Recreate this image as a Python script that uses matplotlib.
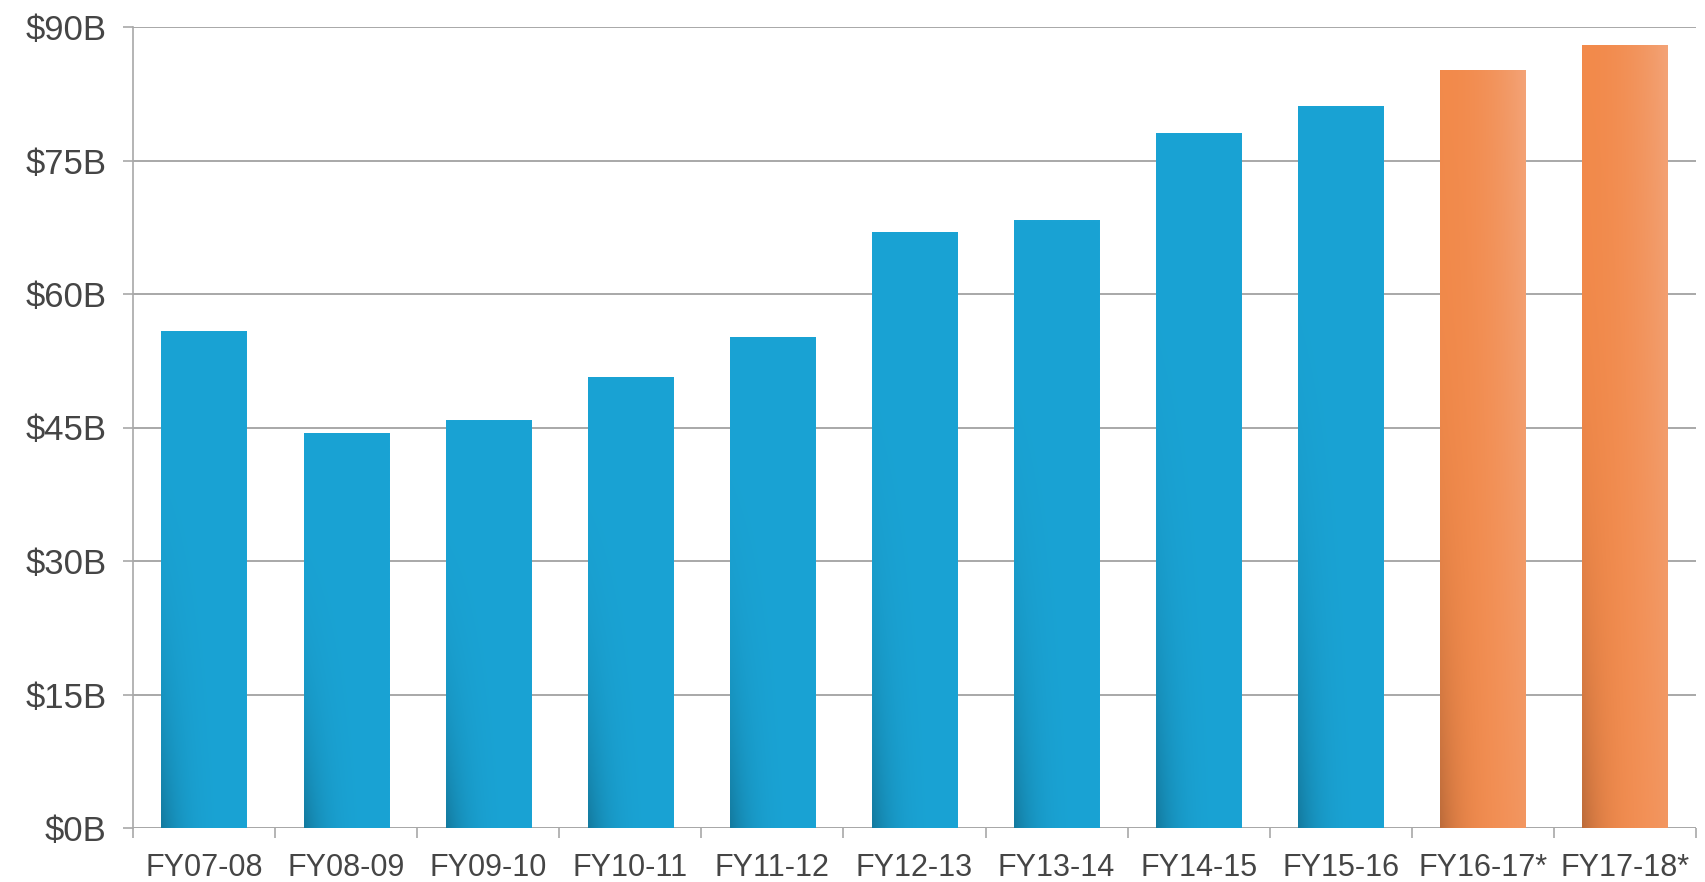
import numpy as np
import matplotlib
matplotlib.use('Agg')
import matplotlib.pyplot as plt
from matplotlib.colors import to_rgb

plt.rcParams['font.family'] = ['Liberation Sans', 'DejaVu Sans']

years = ['FY07-08', 'FY08-09', 'FY09-10', 'FY10-11', 'FY11-12', 'FY12-13',
         'FY13-14', 'FY14-15', 'FY15-16', 'FY16-17*', 'FY17-18*']
values = [55.8, 44.4, 45.8, 50.7, 55.2, 67.0, 68.3, 78.1, 81.1, 85.2, 88.0]
projected = [False] * 9 + [True] * 2
yticks = [0, 15, 30, 45, 60, 75, 90]

BLUE = '#1aa3d4'
ORANGE = '#f28a4b'
GRID = '#a8a8a8'
TEXT = '#454545'


def bar_gradient(base, projected, nx=60, ny=200):
    # shaded fill: darker towards the lower left, orange bars lighten to the upper right
    c = np.array(to_rgb(base))
    x = np.linspace(0, 1, nx)[None, :]
    y = np.linspace(0, 1, ny)[:, None]  # 0 = bottom
    dark = np.clip((1 - x) ** 4 * (1 - y) ** 3, 0, 1)
    img = np.ones((ny, nx, 3)) * c
    if projected:
        light = np.clip(x ** 2 * (0.5 + 0.5 * y), 0, 1) * 0.45
        img = img + (np.array([0.96, 0.76, 0.68]) - img) * light[..., None]
        img = img * (1 - 0.22 * dark[..., None])
    else:
        img = img * (1 - 0.25 * dark[..., None])
    return np.clip(img, 0, 1)


def draw_bars(ax, values, projected, width=0.6):
    bars = ax.bar(range(len(values)), values, width=width, color='none',
                  edgecolor='none', zorder=3)
    for bar, proj in zip(bars, projected):
        x0, y0 = bar.get_x(), bar.get_y()
        img = bar_gradient(ORANGE if proj else BLUE, proj)
        im = ax.imshow(img, origin='lower', aspect='auto', zorder=3,
                       extent=(x0, x0 + bar.get_width(), y0, y0 + bar.get_height()),
                       interpolation='bilinear')
        im.set_clip_path(bar)
    return bars


fig = plt.figure(figsize=(17.05, 8.82), dpi=100)
ax = fig.add_axes([133 / 1705, 54 / 882, (1696 - 133) / 1705, (828 - 27) / 882])

draw_bars(ax, values, projected)

ax.set_xlim(-0.5, len(years) - 0.5)
ax.set_ylim(0, 90)
ax.set_yticks(yticks)
ax.set_yticklabels([f'${v}B' for v in yticks])
ax.set_xticks(range(len(years)))
ax.set_xticklabels(years)
ax.set_xticks(np.arange(-0.5, len(years), 1), minor=True)

ax.yaxis.grid(True, color=GRID, linewidth=1.4, zorder=0)
ax.set_axisbelow(True)
for s in ['top', 'right', 'bottom']:
    ax.spines[s].set_visible(False)
ax.spines['left'].set_color(GRID)
ax.spines['left'].set_linewidth(1.2)
ax.axhline(0, color=GRID, linewidth=1.4, zorder=2)

ax.tick_params(axis='y', length=7, width=1.2, color=GRID, pad=12,
               labelsize=25, labelcolor=TEXT)
ax.tick_params(axis='x', which='major', length=0, pad=18,
               labelsize=22, labelcolor=TEXT)
ax.tick_params(axis='x', which='minor', length=7, width=1.2, color=GRID)

fig.savefig('out.png', dpi=100, facecolor='white')
